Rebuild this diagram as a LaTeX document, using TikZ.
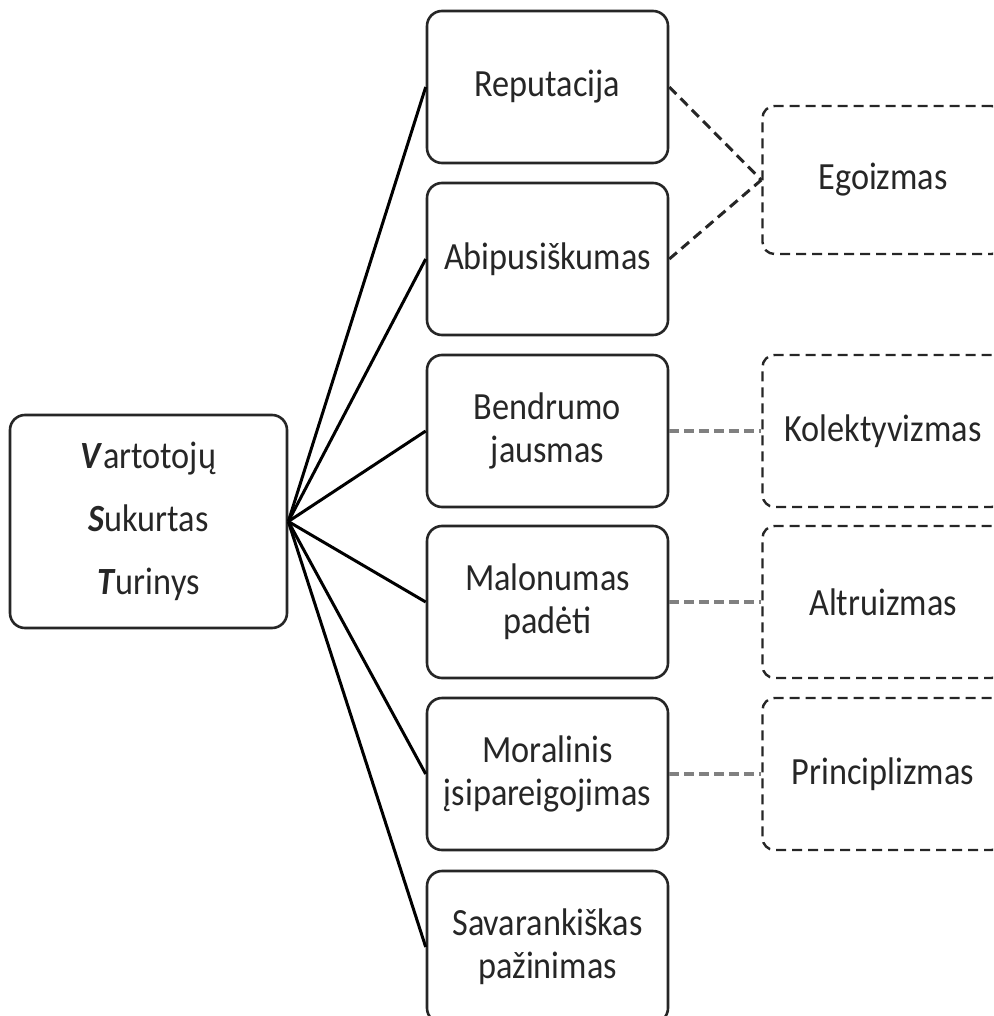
\documentclass[tikz,border=0pt]{standalone}
\usepackage{fontspec}
\setmainfont{Carlito}[FakeStretch=0.89]
\begin{document}
\begin{tikzpicture}[x=1pt,y=-1pt,
  box/.style={draw=black!85, line width=2.6pt, rounded corners=15pt,
    minimum width=241pt, minimum height=152pt, align=center,
    text=black!85, inner sep=0pt,
    font=\fontsize{38.5pt}{43pt}\selectfont},
  dbox/.style={box, rounded corners=12pt, line width=2.4pt,
    dash pattern=on 10pt off 6pt},
  fan/.style={draw=black, line width=3pt},
  link/.style={draw=black!50, line width=3.8pt, dash pattern=on 10pt off 5pt},
  blink/.style={draw=black!85, line width=3pt, dash pattern=on 10pt off 6pt}]
\path[use as bounding box] (0,0) rectangle (993,1016);
\clip (0,0) rectangle (993,1016);

% central concept
\node[box, minimum width=277pt, minimum height=213pt,
  font=\fontsize{38.5pt}{63pt}\selectfont] (vst) at (148.5,521.5)
  {\textbf{\textit{V}}artotojų\\\textbf{\textit{S}}ukurtas\\\textbf{\textit{T}}urinys};

% motives
\node[box] (rep) at (547.5,87)  {Reputacija};
\node[box] (abi) at (547.5,259) {Abipusiškumas};
\node[box] (ben) at (547.5,431) {Bendrumo\\jausmas};
\node[box] (mal) at (547.5,602) {Malonumas\\padėti};
\node[box] (mor) at (547.5,774) {Moralinis\\įsipareigojimas};
\node[box] (sav) at (547.5,947) {Savarankiškas\\pažinimas};

% orientations
\node[dbox, minimum height=148pt] (ego) at (883,180) {Egoizmas};
\node[dbox] (kol) at (883,431) {Kolektyvizmas};
\node[dbox] (alt) at (883,602) {Altruizmas};
\node[dbox] (pri) at (883,774) {Principlizmas};

% fan of connectors
\foreach \t in {rep,abi,ben,mal,mor,sav}
  \draw[fan] (vst.east) -- (\t.west);

% links to orientations
\draw[blink] (rep.east) -- (ego.west);
\draw[blink] (abi.east) -- (ego.west);
\draw[link] (ben.east) -- (kol.west);
\draw[link] (mal.east) -- (alt.west);
\draw[link] (mor.east) -- (pri.west);
\end{tikzpicture}
\end{document}
